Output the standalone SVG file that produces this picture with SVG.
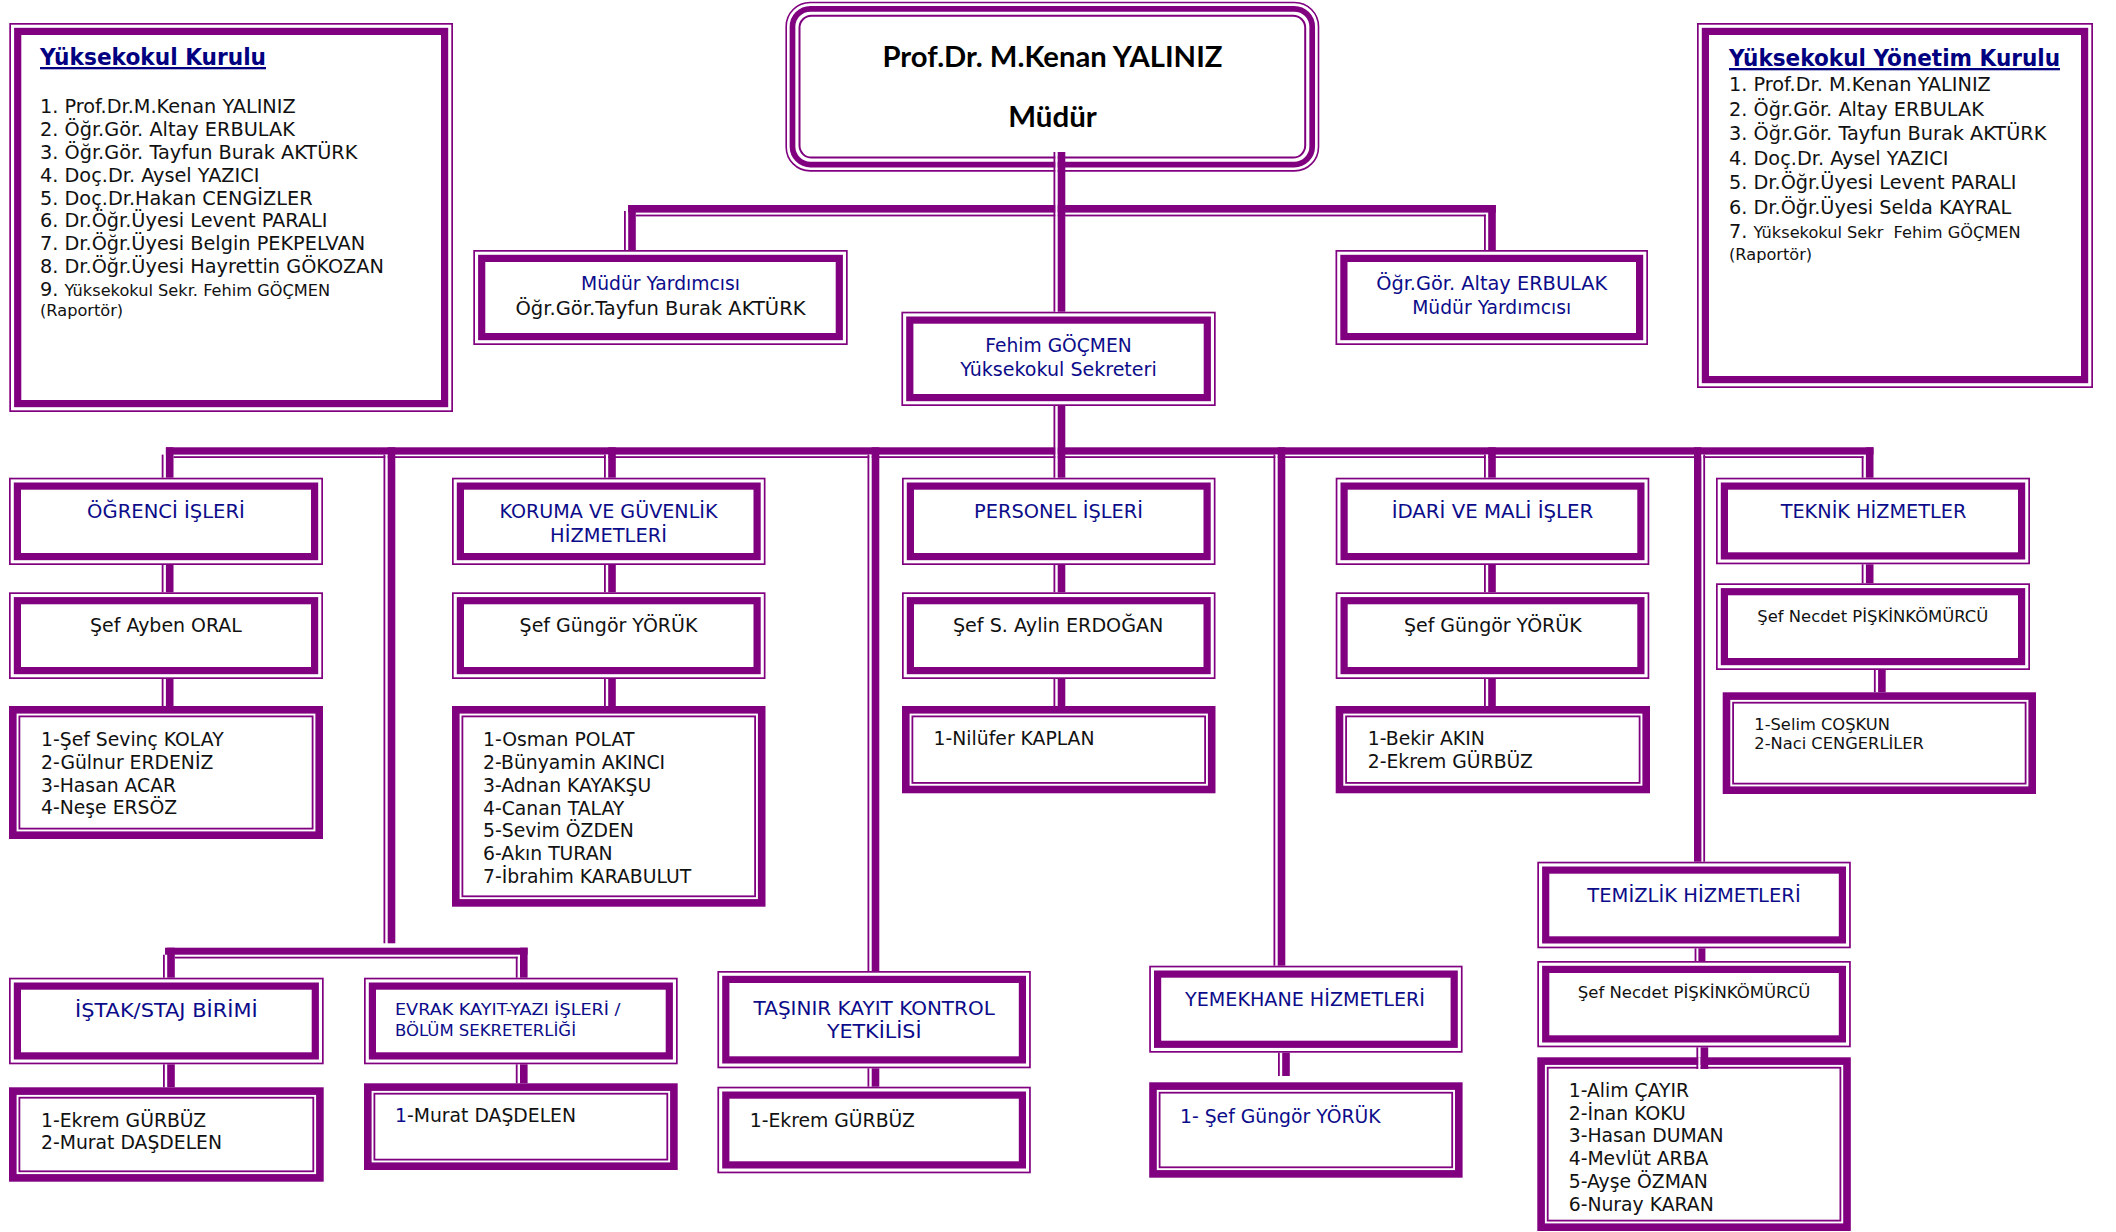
<svg xmlns="http://www.w3.org/2000/svg" width="2116" height="1232" viewBox="0 0 2116 1232">
<style>
.o{fill:#fff;stroke:#800080;stroke-width:1.7}
.t{fill:none;stroke:#800080;stroke-width:7.2}
.l1{fill:#fff;stroke:#800080;stroke-width:7.6}
.l2{fill:none;stroke:#800080;stroke-width:1.8}
.c{fill:#800080}
.w{fill:#fff}
text{font-family:"DejaVu Sans",Verdana,sans-serif}
.lb{font-size:18.8px;fill:#0c0c8a;text-anchor:middle}
.bk{font-size:18.8px;fill:#111;text-anchor:middle}
.ls{font-size:18.8px;fill:#111}
.lt{font-size:19.3px;fill:#111}
.sm{font-size:16.2px}
.s16{font-size:16.3px}
.nv{fill:#0c0c8a}
.hd{font-size:23px;font-weight:bold;fill:#000080;text-decoration:underline}
.mu{font-family:Lato,"Open Sans",sans-serif;font-size:28px;font-weight:bold;fill:#000;text-anchor:middle}
</style>
<rect width="2116" height="1232" fill="#fff"/>

<g id="yuksekokul-kurulu">
<rect class="o" x="10.15" y="23.85" width="442" height="387.3"/>
<rect class="t" x="17.7" y="31.4" width="426.9" height="372.2"/>
<text class="hd" x="40" y="65" textLength="226" lengthAdjust="spacingAndGlyphs">Yüksekokul Kurulu</text>
<text class="lt" x="40" y="113.3">1. Prof.Dr.M.Kenan YALINIZ</text>
<text class="lt" x="40" y="136.1">2. Öğr.Gör. Altay ERBULAK</text>
<text class="lt" x="40" y="158.9">3. Öğr.Gör. Tayfun Burak AKTÜRK</text>
<text class="lt" x="40" y="181.7">4. Doç.Dr. Aysel YAZICI</text>
<text class="lt" x="40" y="204.5">5. Doç.Dr.Hakan CENGİZLER</text>
<text class="lt" x="40" y="227.3">6. Dr.Öğr.Üyesi Levent PARALI</text>
<text class="lt" x="40" y="250.1">7. Dr.Öğr.Üyesi Belgin PEKPELVAN</text>
<text class="lt" x="40" y="272.9">8. Dr.Öğr.Üyesi Hayrettin GÖKOZAN</text>
<text class="lt" x="40" y="295.7">9. <tspan class="sm">Yüksekokul Sekr. Fehim GÖÇMEN</tspan></text>
<text class="lt sm" x="40" y="316">(Raportör)</text>
</g>

<g id="yuksekokul-yonetim-kurulu">
<rect class="o" x="1697.85" y="23.85" width="394.3" height="363.3"/>
<rect class="t" x="1705.4" y="31.4" width="379.2" height="348.2"/>
<text class="hd" x="1729" y="66" textLength="331" lengthAdjust="spacingAndGlyphs">Yüksekokul Yönetim Kurulu</text>
<text class="lt" x="1729" y="91">1. Prof.Dr. M.Kenan YALINIZ</text>
<text class="lt" x="1729" y="115.5">2. Öğr.Gör. Altay ERBULAK</text>
<text class="lt" x="1729" y="140">3. Öğr.Gör. Tayfun Burak AKTÜRK</text>
<text class="lt" x="1729" y="164.5">4. Doç.Dr. Aysel YAZICI</text>
<text class="lt" x="1729" y="189">5. Dr.Öğr.Üyesi Levent PARALI</text>
<text class="lt" x="1729" y="213.5">6. Dr.Öğr.Üyesi Selda KAYRAL</text>
<text class="lt" x="1729" y="238" xml:space="preserve">7. <tspan class="sm">Yüksekokul Sekr  Fehim GÖÇMEN</tspan></text>
<text class="lt sm" x="1729" y="260">(Raportör)</text>
</g>

<g id="mudur">
<rect x="786.2" y="2.5" width="532.3" height="168.4" rx="24" fill="#fff" stroke="#800080" stroke-width="1.6"/>
<rect x="792.5" y="8.8" width="519.7" height="155.8" rx="18" fill="none" stroke="#800080" stroke-width="5.7"/>
<rect x="799.5" y="15.8" width="505.7" height="141.8" rx="12" fill="none" stroke="#800080" stroke-width="2"/>
<text class="mu" x="1052.5" y="67" textLength="340" lengthAdjust="spacingAndGlyphs">Prof.Dr. M.Kenan YALINIZ</text>
<text class="mu" x="1052.5" y="127.3" textLength="88.6" lengthAdjust="spacingAndGlyphs">Müdür</text>
</g>

<g id="mudur-yardimcisi-1">
<rect class="o" x="474.15" y="250.85" width="372.7" height="93.3"/>
<rect class="t" x="481.7" y="258.4" width="357.6" height="78.2"/>
<text class="lb" x="660.5" y="290" textLength="159" lengthAdjust="spacingAndGlyphs">Müdür Yardımcısı</text>
<text class="bk" x="660.5" y="315" textLength="290" lengthAdjust="spacingAndGlyphs">Öğr.Gör.Tayfun Burak AKTÜRK</text>
</g>

<g id="mudur-yardimcisi-2">
<rect class="o" x="1336.35" y="250.85" width="310.8" height="93.3"/>
<rect class="t" x="1343.9" y="258.4" width="295.7" height="78.2"/>
<text class="lb" x="1491.7" y="290" textLength="231" lengthAdjust="spacingAndGlyphs">Öğr.Gör. Altay ERBULAK</text>
<text class="lb" x="1491.7" y="314" textLength="159" lengthAdjust="spacingAndGlyphs">Müdür Yardımcısı</text>
</g>

<g id="yuksekokul-sekreteri">
<rect class="o" x="902.25" y="312.55" width="312.6" height="92.6"/>
<rect class="t" x="909.8" y="320.1" width="297.5" height="77.5"/>
<text class="lb" x="1058.5" y="352.3" textLength="146.4" lengthAdjust="spacingAndGlyphs">Fehim GÖÇMEN</text>
<text class="lb" x="1058.5" y="375.7" textLength="196.4" lengthAdjust="spacingAndGlyphs">Yüksekokul Sekreteri</text>
</g>

<g id="ogrenci-isleri">
<rect class="o" x="9.85" y="478.55" width="312.3" height="85.6"/>
<rect class="t" x="17.4" y="486.1" width="297.2" height="70.5"/>
<text class="lb" x="166" y="518.3" textLength="157.8" lengthAdjust="spacingAndGlyphs">ÖĞRENCİ İŞLERİ</text>
</g>
<g id="ogrenci-sef">
<rect class="o" x="9.85" y="593.15" width="312.3" height="85"/>
<rect class="t" x="17.4" y="600.7" width="297.2" height="69.9"/>
<text class="bk" x="166" y="631.7" textLength="151.8" lengthAdjust="spacingAndGlyphs">Şef Ayben ORAL</text>
</g>
<g id="ogrenci-personel">
<rect class="l1" x="12.8" y="709.8" width="306.4" height="125.4"/>
<rect class="l2" x="19.4" y="716.4" width="293.2" height="112.2"/>
<text class="ls" x="41" y="746">1-Şef Sevinç KOLAY</text>
<text class="ls" x="41" y="768.8">2-Gülnur ERDENİZ</text>
<text class="ls" x="41" y="791.6">3-Hasan ACAR</text>
<text class="ls" x="41" y="814.4">4-Neşe ERSÖZ</text>
</g>

<g id="koruma-guvenlik">
<rect class="o" x="452.85" y="478.55" width="311.8" height="85.6"/>
<rect class="t" x="460.4" y="486.1" width="296.7" height="70.5"/>
<text class="lb" x="608.5" y="518.3" textLength="218" lengthAdjust="spacingAndGlyphs">KORUMA VE GÜVENLİK</text>
<text class="lb" x="608.5" y="541.7" textLength="116.8" lengthAdjust="spacingAndGlyphs">HİZMETLERİ</text>
</g>
<g id="koruma-sef">
<rect class="o" x="452.85" y="593.15" width="311.8" height="85"/>
<rect class="t" x="460.4" y="600.7" width="296.7" height="69.9"/>
<text class="bk" x="608.5" y="631.7" textLength="177.8" lengthAdjust="spacingAndGlyphs">Şef Güngör YÖRÜK</text>
</g>
<g id="koruma-personel">
<rect class="l1" x="455.8" y="709.8" width="305.9" height="193.1"/>
<rect class="l2" x="462.4" y="716.4" width="292.7" height="179.9"/>
<text class="ls" x="483" y="746">1-Osman POLAT</text>
<text class="ls" x="483" y="768.9">2-Bünyamin AKINCI</text>
<text class="ls" x="483" y="791.7">3-Adnan KAYAKŞU</text>
<text class="ls" x="483" y="814.6">4-Canan TALAY</text>
<text class="ls" x="483" y="837.4">5-Sevim ÖZDEN</text>
<text class="ls" x="483" y="860.3">6-Akın TURAN</text>
<text class="ls" x="483" y="883.1">7-İbrahim KARABULUT</text>
</g>

<g id="personel-isleri">
<rect class="o" x="902.85" y="478.55" width="311.8" height="85.6"/>
<rect class="t" x="910.4" y="486.1" width="296.7" height="70.5"/>
<text class="lb" x="1058.5" y="518.3" textLength="169" lengthAdjust="spacingAndGlyphs">PERSONEL İŞLERİ</text>
</g>
<g id="personel-sef">
<rect class="o" x="902.85" y="593.15" width="311.8" height="85"/>
<rect class="t" x="910.4" y="600.7" width="296.7" height="69.9"/>
<text class="bk" x="1058.2" y="631.7" textLength="210.5" lengthAdjust="spacingAndGlyphs">Şef S. Aylin ERDOĞAN</text>
</g>
<g id="personel-personel">
<rect class="l1" x="905.8" y="709.8" width="305.9" height="79.7"/>
<rect class="l2" x="912.4" y="716.4" width="292.7" height="66.5"/>
<text class="ls" x="933.6" y="745">1-Nilüfer KAPLAN</text>
</g>

<g id="idari-mali-isler">
<rect class="o" x="1336.55" y="478.55" width="311.9" height="85.6"/>
<rect class="t" x="1344.1" y="486.1" width="296.8" height="70.5"/>
<text class="lb" x="1492.5" y="518.3" textLength="201.7" lengthAdjust="spacingAndGlyphs">İDARİ VE MALİ İŞLER</text>
</g>
<g id="idari-sef">
<rect class="o" x="1336.55" y="593.15" width="311.9" height="85"/>
<rect class="t" x="1344.1" y="600.7" width="296.8" height="69.9"/>
<text class="bk" x="1492.8" y="631.7" textLength="177.7" lengthAdjust="spacingAndGlyphs">Şef Güngör YÖRÜK</text>
</g>
<g id="idari-personel">
<rect class="l1" x="1339.5" y="709.8" width="306.7" height="79.7"/>
<rect class="l2" x="1346.1" y="716.4" width="293.5" height="66.5"/>
<text class="ls" x="1367.7" y="745">1-Bekir AKIN</text>
<text class="ls" x="1367.7" y="768.3">2-Ekrem GÜRBÜZ</text>
</g>

<g id="teknik-hizmetler">
<rect class="o" x="1716.85" y="478.55" width="312.3" height="84.9"/>
<rect class="t" x="1724.4" y="486.1" width="297.2" height="69.8"/>
<text class="lb" x="1873.5" y="517.7" textLength="185.7" lengthAdjust="spacingAndGlyphs">TEKNİK HİZMETLER</text>
</g>
<g id="teknik-sef">
<rect class="o" x="1716.85" y="584.15" width="312.3" height="85"/>
<rect class="t" x="1724.4" y="591.7" width="297.2" height="69.9"/>
<text class="bk s16" x="1872.8" y="621.7" textLength="231" lengthAdjust="spacingAndGlyphs">Şef Necdet PİŞKİNKÖMÜRCÜ</text>
</g>
<g id="teknik-personel">
<rect class="l1" x="1726.5" y="696.1" width="305.7" height="94.1"/>
<rect class="l2" x="1733.1" y="702.7" width="292.5" height="80.9"/>
<text class="ls s16" x="1754.3" y="730">1-Selim COŞKUN</text>
<text class="ls s16" x="1754.3" y="749">2-Naci CENGERLİLER</text>
</g>

<g id="istak-staj">
<rect class="o" x="9.85" y="978.55" width="313" height="84.9"/>
<rect class="t" x="17.4" y="986.1" width="297.9" height="69.8"/>
<text class="lb" x="166.3" y="1016.7" textLength="182.6" lengthAdjust="spacingAndGlyphs">İŞTAK/STAJ BİRİMİ</text>
</g>
<g id="istak-personel">
<rect class="l1" x="12.8" y="1091.1" width="307.1" height="86.8"/>
<rect class="l2" x="19.4" y="1097.7" width="293.9" height="73.6"/>
<text class="ls" x="41" y="1127">1-Ekrem GÜRBÜZ</text>
<text class="ls" x="41" y="1149">2-Murat DAŞDELEN</text>
</g>

<g id="evrak-kayit">
<rect class="o" x="364.85" y="978.55" width="312" height="84.9"/>
<rect class="t" x="372.4" y="986.1" width="296.9" height="69.8"/>
<text class="ls s16 nv" x="395" y="1015" textLength="225.5" lengthAdjust="spacingAndGlyphs">EVRAK KAYIT-YAZI İŞLERİ /</text>
<text class="ls s16 nv" x="395" y="1035.7" textLength="181" lengthAdjust="spacingAndGlyphs">BÖLÜM SEKRETERLİĞİ</text>
</g>
<g id="evrak-personel">
<rect class="l1" x="367.8" y="1087.1" width="306.1" height="79.1"/>
<rect class="l2" x="374.4" y="1093.7" width="292.9" height="65.9"/>
<text class="ls" x="395" y="1122.3"><tspan class="nv">1</tspan>-Murat DAŞDELEN</text>
</g>

<g id="tasinir-kayit">
<rect class="o" x="718.25" y="971.85" width="311.7" height="95.6"/>
<rect class="t" x="725.8" y="979.4" width="296.6" height="80.5"/>
<text class="lb" x="874.2" y="1015" textLength="241.3" lengthAdjust="spacingAndGlyphs">TAŞINIR KAYIT KONTROL</text>
<text class="lb" x="874.2" y="1038.3" textLength="94.6" lengthAdjust="spacingAndGlyphs">YETKİLİSİ</text>
</g>
<g id="tasinir-personel">
<rect class="o" x="718.25" y="1087.55" width="311.7" height="84.9"/>
<rect class="t" x="725.8" y="1095.1" width="296.6" height="69.8"/>
<text class="ls" x="749.7" y="1126.7">1-Ekrem GÜRBÜZ</text>
</g>

<g id="yemekhane-hizmetleri">
<rect class="o" x="1150.05" y="966.55" width="311.7" height="85.3"/>
<rect class="t" x="1157.6" y="974.1" width="296.6" height="70.2"/>
<text class="lb" x="1305" y="1006" textLength="239.8" lengthAdjust="spacingAndGlyphs">YEMEKHANE HİZMETLERİ</text>
</g>
<g id="yemekhane-personel">
<rect class="l1" x="1153" y="1086.1" width="305.8" height="87.8"/>
<rect class="l2" x="1159.6" y="1092.7" width="292.6" height="74.6"/>
<text class="ls nv" x="1180" y="1123.3">1- Şef Güngör YÖRÜK</text>
</g>

<g id="temizlik-hizmetleri">
<rect class="o" x="1538.15" y="862.55" width="311.8" height="84.9"/>
<rect class="t" x="1545.7" y="870.1" width="296.7" height="69.8"/>
<text class="lb" x="1694" y="901.7" textLength="213.3" lengthAdjust="spacingAndGlyphs">TEMİZLİK HİZMETLERİ</text>
</g>
<g id="temizlik-sef">
<rect class="o" x="1538.15" y="961.85" width="311.8" height="84.6"/>
<rect class="t" x="1545.7" y="969.4" width="296.7" height="69.5"/>
<text class="bk s16" x="1694.1" y="998.3" textLength="232.6" lengthAdjust="spacingAndGlyphs">Şef Necdet PİŞKİNKÖMÜRCÜ</text>
</g>
<g id="temizlik-personel">
<rect class="l1" x="1541.1" y="1061.1" width="305.9" height="166.1"/>
<rect class="l2" x="1547.7" y="1067.7" width="292.7" height="152.9"/>
<text class="ls" x="1568.7" y="1096.7">1-Alim ÇAYIR</text>
<text class="ls" x="1568.7" y="1119.6">2-İnan KOKU</text>
<text class="ls" x="1568.7" y="1142.4">3-Hasan DUMAN</text>
<text class="ls" x="1568.7" y="1165.3">4-Mevlüt ARBA</text>
<text class="ls" x="1568.7" y="1188.1">5-Ayşe ÖZMAN</text>
<text class="ls" x="1568.7" y="1211">6-Nuray KARAN</text>
</g>

<g id="connectors">
<rect class="c" x="628.2" y="205" width="867.6" height="7.6"/>
<rect class="c" x="635.8" y="214.6" width="850" height="1.8"/>
<rect class="c" x="624" y="211" width="1.8" height="39"/>
<rect class="c" x="628.2" y="205" width="7.6" height="45"/>
<rect class="c" x="1484" y="214.6" width="1.8" height="35.4"/>
<rect class="c" x="1488.2" y="205" width="7.6" height="45"/>
<rect class="c" x="165.9" y="447.3" width="1707.6" height="7.3"/>
<rect class="c" x="173.5" y="456.2" width="1690" height="1.8"/>
<rect class="w" x="1055.3" y="152" width="2.4" height="159.7"/>
<rect class="c" x="1053.5" y="152" width="1.8" height="159.7"/>
<rect class="c" x="1057.7" y="152" width="7.6" height="159.7"/>
<rect class="w" x="1055.3" y="406" width="2.4" height="71.7"/>
<rect class="c" x="1053.5" y="406" width="1.8" height="71.7"/>
<rect class="c" x="1057.7" y="406" width="7.6" height="71.7"/>
<rect class="c" x="161.7" y="454.6" width="1.8" height="23.1"/>
<rect class="c" x="165.9" y="447.3" width="7.6" height="30.4"/>
<rect class="w" x="605.8" y="454.6" width="2.4" height="3.6"/>
<rect class="c" x="604" y="454.6" width="1.8" height="23.1"/>
<rect class="c" x="608.2" y="447.3" width="7.6" height="30.4"/>
<rect class="w" x="385.3" y="454.6" width="2.4" height="3.6"/>
<rect class="c" x="383.5" y="454.6" width="1.8" height="488.7"/>
<rect class="c" x="387.7" y="447.3" width="7.6" height="496"/>
<rect class="w" x="869.3" y="454.6" width="2.4" height="3.6"/>
<rect class="c" x="867.5" y="454.6" width="1.8" height="516.4"/>
<rect class="c" x="871.7" y="447.3" width="7.6" height="523.7"/>
<rect class="w" x="1275.3" y="454.6" width="2.4" height="3.6"/>
<rect class="c" x="1273.5" y="454.6" width="1.8" height="511.1"/>
<rect class="c" x="1277.7" y="447.3" width="7.6" height="518.4"/>
<rect class="w" x="1485.8" y="454.6" width="2.4" height="3.6"/>
<rect class="c" x="1484" y="454.6" width="1.8" height="23.1"/>
<rect class="c" x="1488.2" y="447.3" width="7.6" height="30.4"/>
<rect class="c" x="1694" y="447.3" width="7.4" height="414.4"/>
<rect class="w" x="1701.4" y="454.6" width="1.9" height="3.6"/>
<rect class="c" x="1703.3" y="454.6" width="1.8" height="407.1"/>
<rect class="c" x="1861.7" y="456.2" width="1.8" height="21.5"/>
<rect class="c" x="1865.9" y="447.3" width="7.6" height="30.4"/>
<rect class="c" x="161.7" y="565" width="1.8" height="27.3"/>
<rect class="c" x="165.9" y="565" width="7.6" height="27.3"/>
<rect class="c" x="161.7" y="679" width="1.8" height="27"/>
<rect class="c" x="165.9" y="679" width="7.6" height="27"/>
<rect class="c" x="604" y="565" width="1.8" height="27.3"/>
<rect class="c" x="608.2" y="565" width="7.6" height="27.3"/>
<rect class="c" x="604" y="679" width="1.8" height="27"/>
<rect class="c" x="608.2" y="679" width="7.6" height="27"/>
<rect class="c" x="1053.5" y="565" width="1.8" height="27.3"/>
<rect class="c" x="1057.7" y="565" width="7.6" height="27.3"/>
<rect class="c" x="1053.5" y="679" width="1.8" height="27"/>
<rect class="c" x="1057.7" y="679" width="7.6" height="27"/>
<rect class="c" x="1484" y="565" width="1.8" height="27.3"/>
<rect class="c" x="1488.2" y="565" width="7.6" height="27.3"/>
<rect class="c" x="1484" y="679" width="1.8" height="27"/>
<rect class="c" x="1488.2" y="679" width="7.6" height="27"/>
<rect class="c" x="1861.7" y="564.3" width="1.8" height="19"/>
<rect class="c" x="1865.9" y="564.3" width="7.6" height="19"/>
<rect class="c" x="1873.9" y="670" width="1.8" height="22.3"/>
<rect class="c" x="1878.1" y="670" width="7.6" height="22.3"/>
<rect class="c" x="165" y="947.7" width="362.6" height="7"/>
<rect class="c" x="174.8" y="956.7" width="342.8" height="1.8"/>
<rect class="c" x="163" y="954.7" width="1.8" height="23"/>
<rect class="c" x="167.2" y="947.7" width="7.6" height="30"/>
<rect class="c" x="515.8" y="956.7" width="1.8" height="21"/>
<rect class="c" x="520" y="947.7" width="7.6" height="30"/>
<rect class="c" x="163" y="1064.3" width="1.8" height="23"/>
<rect class="c" x="167.2" y="1064.3" width="7.6" height="23"/>
<rect class="c" x="515.8" y="1064.3" width="1.8" height="19"/>
<rect class="c" x="520" y="1064.3" width="7.6" height="19"/>
<rect class="c" x="867.5" y="1068.3" width="1.8" height="18.4"/>
<rect class="c" x="871.7" y="1068.3" width="7.6" height="18.4"/>
<rect class="c" x="1278" y="1052.7" width="1.8" height="23.3"/>
<rect class="c" x="1282.2" y="1052.7" width="7.6" height="23.3"/>
<rect class="c" x="1694.6" y="948.3" width="1.8" height="12.7"/>
<rect class="c" x="1698.4" y="948.3" width="7" height="12.7"/>
<rect class="w" x="1698.2" y="1057.3" width="2.4" height="11.7"/>
<rect class="c" x="1696.4" y="1047.3" width="1.8" height="21.7"/>
<rect class="c" x="1700.6" y="1047.3" width="7.6" height="21.7"/>
</g>
</svg>
